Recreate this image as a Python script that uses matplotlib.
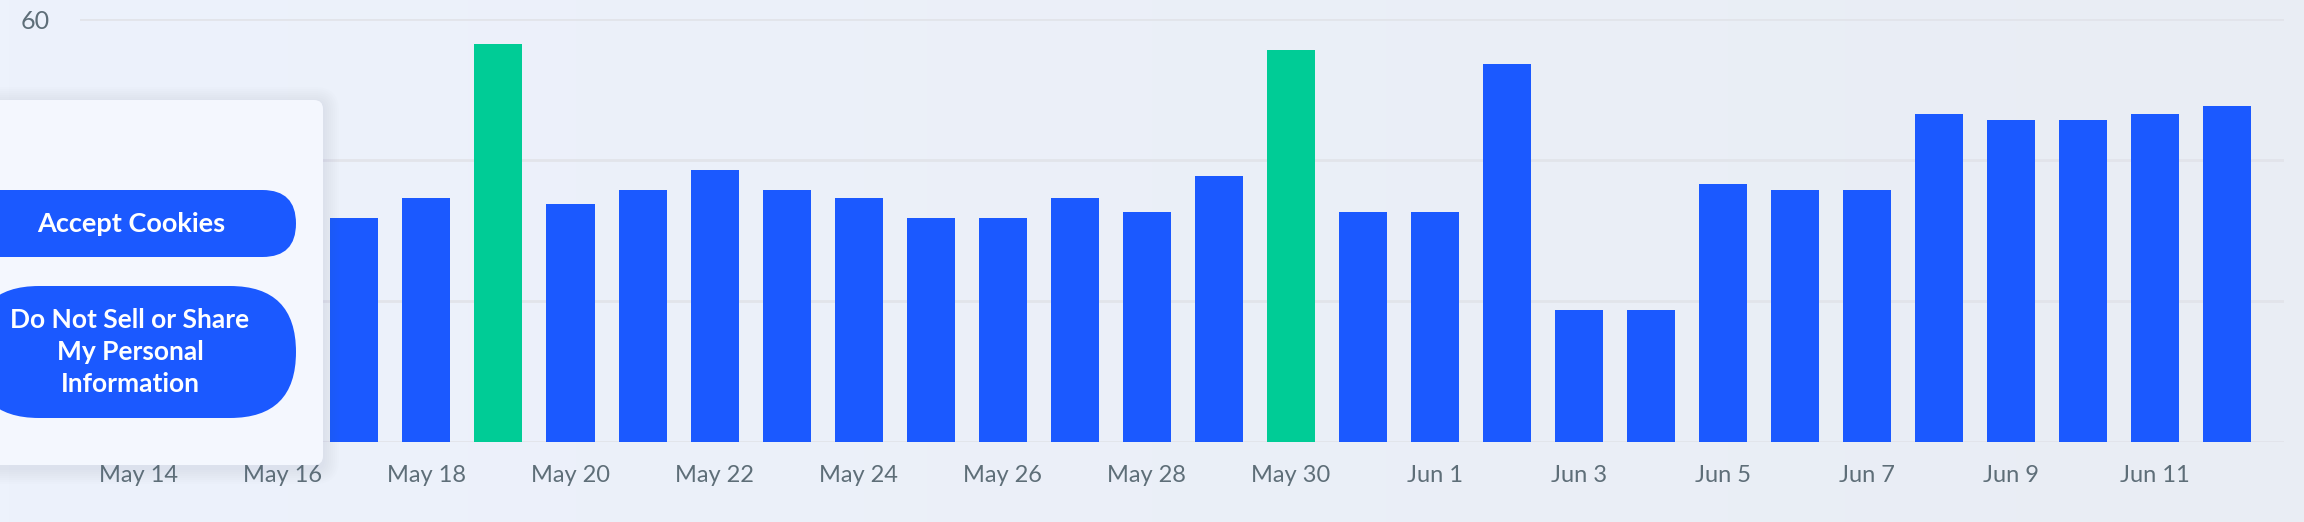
import matplotlib.pyplot as plt
import numpy as np
import pandas as pd
from matplotlib.patches import FancyBboxPatch
from matplotlib.colors import LinearSegmentedColormap

# === Data ===
dates = pd.date_range("2024-05-14", "2024-06-12", freq="D")
values = [33.0, 34.0, 31.0, 31.8, 34.6, 56.5, 33.8, 35.8, 38.6, 35.8,
          34.6, 31.8, 31.8, 34.6, 32.6, 37.7, 55.6, 32.6, 32.6, 53.6,
          18.7, 18.7, 36.6, 35.8, 35.8, 46.5, 45.7, 45.7, 46.5, 47.7]
highlight_days = ["2024-05-19", "2024-05-30"]
y_ticks = [0, 20, 40, 60]

BLUE = "#1b59ff"
GREEN = "#00cc96"
GRID = "#e2e4ea"
TEXT = "#5e6e78"

plt.rcParams["font.family"] = ["Lato", "DejaVu Sans"]

W, H = 2304, 522
fig = plt.figure(figsize=(W / 100, H / 100), dpi=100)

# === Background gradient ===
bg = fig.add_axes([0, 0, 1, 1], zorder=0)
grad = np.linspace(0, 1, 256)[None, :]
cmap = LinearSegmentedColormap.from_list("bg", ["#edf2fc", "#e9edf4"])
bg.imshow(grad, aspect="auto", cmap=cmap, extent=[0, 1, 0, 1])
bg.axis("off")

# === Bar chart ===
ax = fig.add_axes([80 / W, (H - 442) / H, (2284 - 80) / W, (442 - 19) / H], zorder=1)
ax.set_facecolor("none")
x = np.arange(len(dates))
hl = set(pd.to_datetime(highlight_days))
colors = [GREEN if d in hl else BLUE for d in dates]
ax.bar(x, values, width=0.667, color=colors, zorder=3)

ax.set_xlim(-0.81, len(dates) - 1 + 0.79)
ax.set_ylim(0, 60)
ax.set_yticks(y_ticks)
# lower labels sit under the cookie panel, only the top one shows
ax.set_yticklabels([str(t) if t == max(y_ticks) else "" for t in y_ticks])
ax.set_xticks(x[::2])
ax.set_xticklabels([f"{d:%b} {d.day}" for d in dates[::2]])
ax.grid(axis="y", color=GRID, linewidth=2, zorder=0)
for s in ax.spines.values():
    s.set_visible(False)
ax.tick_params(axis="x", length=0, pad=16.5, labelsize=17, labelcolor=TEXT)
ax.tick_params(axis="y", length=0, pad=22, labelsize=18, labelcolor=TEXT)
for lbl in ax.get_yticklabels():
    lbl.set_clip_on(False)

# === Cookie consent overlay ===
ov = fig.add_axes([0, 0, 1, 1], zorder=5)
ov.set_xlim(0, W)
ov.set_ylim(H, 0)
ov.axis("off")

# soft shadow
for i in range(8):
    g = 2 + i * 2
    ov.add_patch(FancyBboxPatch((-40 - g, 100 - g + 3), 363 + 2 * g, 365 + 2 * g,
                                boxstyle=f"round,pad=0,rounding_size={8 + g}",
                                fc="#6a7a9a", ec="none", alpha=0.01))
ov.add_patch(FancyBboxPatch((-40, 100), 363, 365, boxstyle="round,pad=0,rounding_size=9",
                            fc="#f4f7fe", ec="none"))

ov.add_patch(FancyBboxPatch((-80, 190), 376, 67, boxstyle="round,pad=0,rounding_size=33.5",
                            fc=BLUE, ec="none"))
ov.text(131, 224, "Accept Cookies", color="white", fontsize=19.5, fontweight="bold",
        ha="center", va="center")

ov.add_patch(FancyBboxPatch((-27, 286), 323, 132, boxstyle="round,pad=0,rounding_size=66",
                            fc=BLUE, ec="none"))
ov.text(130, 352, "Do Not Sell or Share\nMy Personal\nInformation", color="white",
        fontsize=19, fontweight="bold", ha="center", va="center", linespacing=1.42)

fig.savefig("out.png", dpi=100)
